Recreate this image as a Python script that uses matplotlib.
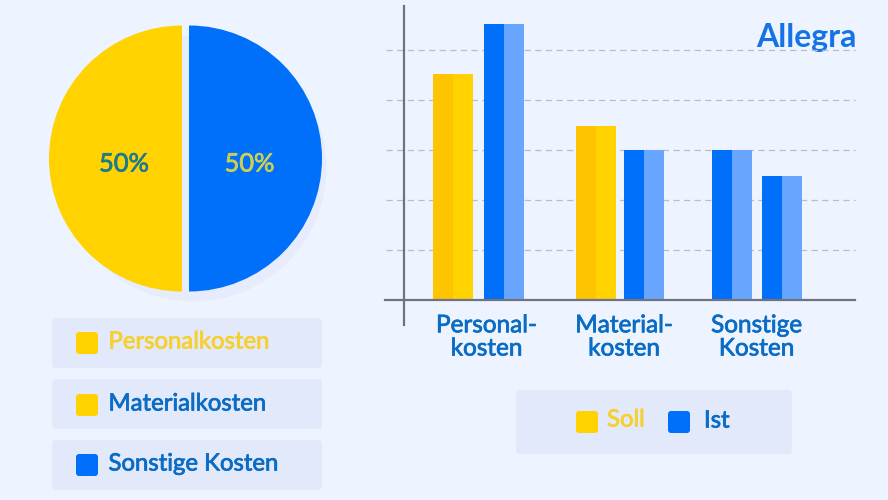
import matplotlib
matplotlib.use("Agg")
import matplotlib.pyplot as plt
from matplotlib.patches import FancyBboxPatch
import matplotlib.patheffects as pe
import numpy as np

# data
cost_labels = ["Personalkosten", "Materialkosten", "Sonstige Kosten"]
pie_values = [50, 50]
pie_labels = ["50%", "50%"]
bar_categories = ["Personal-\nkosten", "Material-\nkosten", "Sonstige\nKosten"]
soll_values = [4.52, 3.48, 3.0]
ist_values = [5.52, 3.0, 2.48]
series_names = ["Soll", "Ist"]

# style
BG = "#eef4ff"; PANEL = "#e2e9fb"; SHADOW = "#e6ecfc"
YEL = "#ffd200"; YEL_D = "#ffc400"; BLUE = "#0070fa"; BLUE_L = "#68a5ff"
TXT_B = "#0a6cc4"; TXT_Y = "#f6d02f"; LINE = "#6f7282"; GRID = "#b9bdc6"
FONT = "Lato"
W, H = 888, 500

fig = plt.figure(figsize=(W/100, H/100), dpi=100, facecolor=BG)

def heavy(color, width=0.55):
    return [pe.withStroke(linewidth=width, foreground=color)]

# page layer in pixel coordinates
bg = fig.add_axes([0, 0, 1, 1])
bg.set_xlim(0, W); bg.set_ylim(H, 0); bg.axis("off")

def panel(x0, y0, x1, y1):
    bg.add_patch(FancyBboxPatch((x0+4, y0+4), x1-x0-8, y1-y0-8,
                                boxstyle="round,pad=4,rounding_size=4",
                                fc=PANEL, ec="none"))

def swatch(x0, y0, color):
    bg.add_patch(FancyBboxPatch((x0+3, y0+3), 16, 16,
                                boxstyle="round,pad=3,rounding_size=3",
                                fc=color, ec="none"))

def label(x, y, s, color, size=17.2, ha="left", target=bg):
    target.text(x, y, s, color=color, fontsize=size, family=FONT, weight="normal",
                va="center", ha=ha, path_effects=heavy(color))

# left legend
panel_rows = [(318, 368), (379, 429), (440, 490)]
swatch_rows = [332, 394, 454]
text_rows = [342, 404, 464]
swatch_cols = [YEL, YEL, BLUE]
text_cols = [TXT_Y, TXT_B, TXT_B]
for lab, pr, sy, ty, sc, tc in zip(cost_labels, panel_rows, swatch_rows, text_rows, swatch_cols, text_cols):
    panel(52, pr[0], 322, pr[1])
    swatch(76, sy, sc)
    label(108.5, ty, lab, tc)

# right legend
panel(516, 390, 792, 454)
swatch(576, 411, YEL); swatch(668, 411, BLUE)
label(607, 420, series_names[0], TXT_Y)
label(704, 421, series_names[1], TXT_B)

# pie
pax = fig.add_axes([0, 0, 1, 1])
pax.patch.set_alpha(0)
CX, CY, R = 185.5, H-158.5, 133
pax.pie(pie_values, colors=[SHADOW, SHADOW], startangle=90, radius=R,
        center=(CX+8, CY-10), frame=True, wedgeprops=dict(lw=0))
wedges, _ = pax.pie(pie_values, colors=[YEL, BLUE], startangle=90, radius=R,
                    center=(CX, CY), explode=[3.5, 3.5], frame=True, wedgeprops=dict(lw=0))
pax.set_xlim(0, W); pax.set_ylim(0, H); pax.axis("off")
pax.text(124, H-164, pie_labels[0], color="#1f7a8c", fontsize=18.3, family=FONT,
         ha="center", va="center", path_effects=heavy("#1f7a8c"))
pax.text(249.5, H-164, pie_labels[1], color="#c9d052", fontsize=18.3, family=FONT,
         ha="center", va="center", path_effects=heavy("#c9d052"))

# bars: x axis in pixels, y scale 50 px per unit, baseline at y=300
ax = fig.add_axes([0, (H-325)/H, 1, 319/H])
ax.patch.set_alpha(0)
ax.set_xlim(0, W)
ax.set_ylim(-25/50, 294/50)
half = 20
soll_x = np.array([453, 596, 732])
ist_x = np.array([504, 644, 782])
soll_dark = [YEL_D, YEL_D, BLUE]
soll_light = [YEL, YEL, BLUE_L]
ax.bar(soll_x-half/2, soll_values, width=half, color=soll_dark, zorder=3)
ax.bar(soll_x+half/2, soll_values, width=half, color=soll_light, zorder=3)
ax.bar(ist_x-half/2, ist_values, width=half, color=BLUE, zorder=3)
ax.bar(ist_x+half/2, ist_values, width=half, color=BLUE_L, zorder=3)

for s in ("top", "right"):
    ax.spines[s].set_visible(False)
ax.spines["left"].set_position(("data", 404))
ax.spines["bottom"].set_position(("data", 0))
ax.spines["bottom"].set_bounds(385, 855)
for s in ("left", "bottom"):
    ax.spines[s].set_color(LINE); ax.spines[s].set_linewidth(1.6); ax.spines[s].set_zorder(4)
ax.set_yticks([1, 2, 3, 4, 5]); ax.set_yticklabels([])
ax.tick_params(axis="y", length=0)
for yv in [1, 2, 3, 4, 5]:
    ax.plot([386, 855], [yv, yv], color=GRID, lw=0.9, ls=(0, (5, 3.5)), zorder=1)
ax.set_xticks([486.5, 624, 756.5])
ax.set_xticklabels(bar_categories, fontsize=17.5, family=FONT, color=TXT_B, linespacing=1.13,
                   path_effects=heavy(TXT_B))
ax.tick_params(axis="x", length=0, pad=11)

# logo
bg.text(806.5, 38, "Allegra", color="#1673e6", fontsize=23, family=FONT, weight="bold",
        ha="center", va="center", zorder=6)

fig.savefig("out.png", dpi=100, facecolor=BG)
